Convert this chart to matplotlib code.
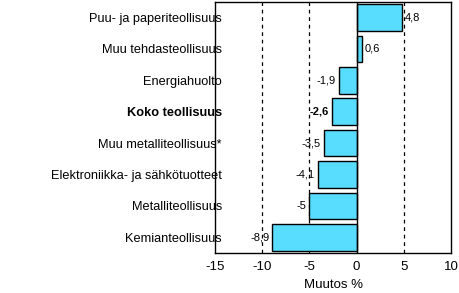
import matplotlib
import matplotlib.pyplot as plt

matplotlib.use('Agg')

categories = ['Puu- ja paperiteollisuus', 'Muu tehdasteollisuus', 'Energiahuolto',
              'Koko teollisuus', 'Muu metalliteollisuus*', 'Elektroniikka- ja sähkötuotteet',
              'Metalliteollisuus', 'Kemianteollisuus']
values = [4.8, 0.6, -1.9, -2.6, -3.5, -4.1, -5.0, -8.9]
value_labels = ['4,8', '0,6', '-1,9', '-2,6', '-3,5', '-4,1', '-5', '-8,9']
x_ticks = [-15, -10, -5, 0, 5, 10]

plt.rcParams['font.family'] = ['Liberation Sans', 'DejaVu Sans']

fig = plt.figure(figsize=(4.59, 2.93), dpi=100)
ax = fig.add_axes([0.468, 0.1365, 0.515, 0.857])

pos = list(range(len(categories)))
ax.barh(pos, values, height=0.85, color='#58dcff', edgecolor='black', linewidth=1, zorder=3)
ax.axvline(0, color='black', linewidth=1, zorder=4)
for x in [-10, -5, 5]:
    ax.axvline(x, color='black', linestyle=(0, (3, 3)), linewidth=0.9, zorder=1)

for p, v, lab in zip(pos, values, value_labels):
    bold = 'bold' if categories[p] == 'Koko teollisuus' else 'normal'
    if v >= 0:
        ax.text(v + 0.25, p, lab, ha='left', va='center', fontsize=8, fontweight=bold, zorder=5)
    else:
        ax.text(v - 0.3, p, lab, ha='right', va='center', fontsize=8, fontweight=bold, zorder=5)

ax.set_xlim(-15, 10)
ax.set_ylim(len(categories) - 0.5, -0.5)
ax.set_xticks(x_ticks)
ax.set_xticklabels([str(t) for t in x_ticks], fontsize=9.5)
ax.set_yticks(pos)
ax.set_yticklabels(categories, fontsize=9.2)
for lbl in ax.get_yticklabels():
    if lbl.get_text() == 'Koko teollisuus':
        lbl.set_fontweight('bold')
ax.tick_params(axis='both', length=0)
ax.tick_params(axis='y', pad=-5)
ax.tick_params(axis='x', pad=6)
ax.set_xlabel('Muutos %', fontsize=9.5, labelpad=4)
for s in ax.spines.values():
    s.set_linewidth(1)
    s.set_color('black')

plt.savefig('out.png', dpi=100)
plt.close()
